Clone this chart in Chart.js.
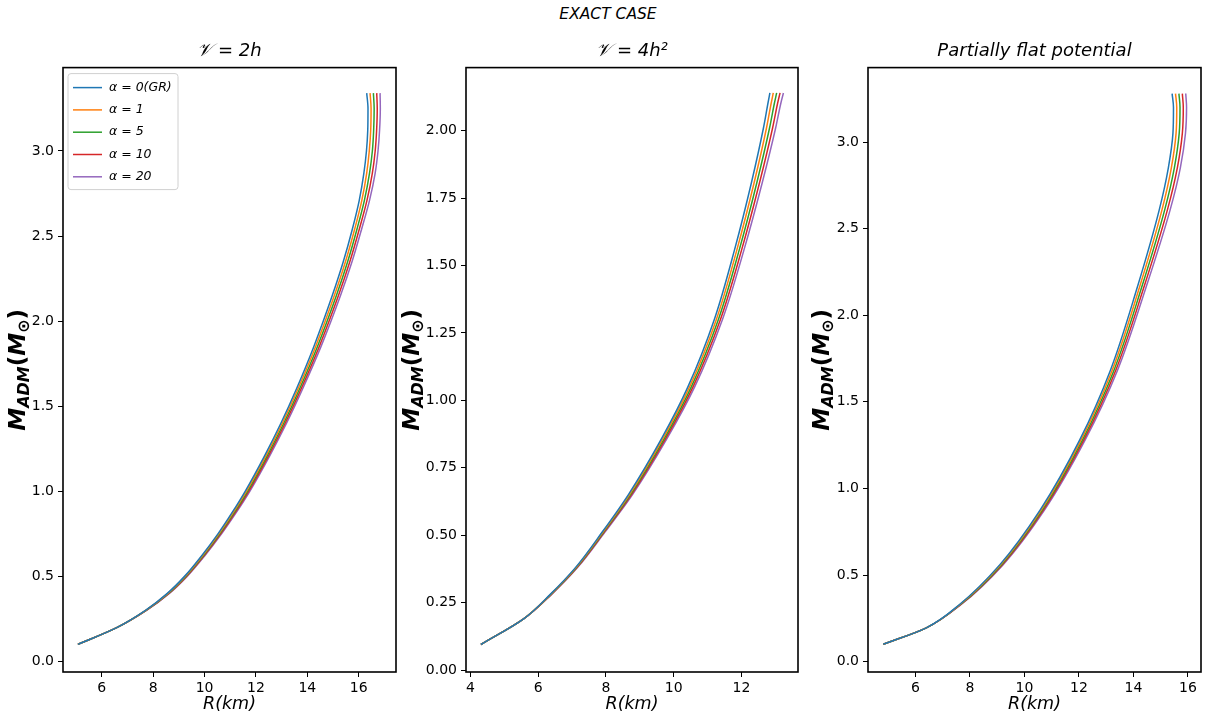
<!DOCTYPE html>
<html lang="en">
<head>
<meta charset="UTF-8">
<title>Mass-radius curves, exact case</title>
<script src="https://cdn.jsdelivr.net/npm/chart.js@4.4.1/dist/chart.umd.min.js"></script>
<style>
  body { margin: 0; background: #fff; width: 1216px; height: 728px; position: relative; overflow: hidden; }
  .panel { position: absolute; top: 0; height: 728px; }
  #suptitle { position: absolute; top: 5px; left: 0; width: 1216px; text-align: center;
              font: italic 15.5px "DejaVu Sans"; line-height: 18px; color: #000; }
</style>
</head>
<body>
<div id="suptitle">EXACT CASE</div>
<div class="panel" style="left:0;width:400px"><canvas id="c1"></canvas></div>
<div class="panel" style="left:400px;width:405px"><canvas id="c2"></canvas></div>
<div class="panel" style="left:805px;width:411px"><canvas id="c3"></canvas></div>
<script>
const alphaLabels = ['α = 0(GR)', 'α = 1', 'α = 5', 'α = 10', 'α = 20'];
const colors = ['#1f77b4', '#ff7f0e', '#2ca02c', '#d62728', '#9467bd'];

// panel 1: V = 2h   (M in solar masses, R in km)
const m1 = [0.10, 0.20, 0.30, 0.40, 0.50, 0.62, 0.75, 0.87, 1.00, 1.21, 1.40, 1.60, 1.85, 2.15, 2.35, 2.54, 2.71, 2.87, 3.00, 3.12, 3.25, 3.34];
const r1_a0 = [5.07, 6.60, 7.70, 8.55, 9.22, 9.88, 10.52, 11.05, 11.58, 12.34, 12.97, 13.57, 14.25, 14.97, 15.40, 15.75, 16.02, 16.20, 16.30, 16.35, 16.36, 16.31];
const r1_a1 = [5.07, 6.60, 7.71, 8.57, 9.245, 9.91, 10.555, 11.09, 11.625, 12.39, 13.025, 13.63, 14.32, 15.05, 15.485, 15.84, 16.12, 16.31, 16.41, 16.465, 16.48, 16.44];
const r1_a5 = [5.07, 6.60, 7.72, 8.59, 9.27, 9.94, 10.59, 11.13, 11.67, 12.44, 13.08, 13.69, 14.39, 15.13, 15.57, 15.93, 16.22, 16.42, 16.53, 16.58, 16.60, 16.57];
const r1_a10 = [5.07, 6.60, 7.73, 8.61, 9.295, 9.97, 10.625, 11.17, 11.715, 12.49, 13.135, 13.75, 14.46, 15.21, 15.655, 16.02, 16.32, 16.53, 16.64, 16.695, 16.72, 16.70];
const r1_a20 = [5.07, 6.60, 7.74, 8.63, 9.32, 10.00, 10.66, 11.21, 11.76, 12.54, 13.19, 13.81, 14.53, 15.29, 15.74, 16.11, 16.42, 16.64, 16.75, 16.81, 16.84, 16.83];
const xTicks1 = [6, 8, 10, 12, 14, 16];
const yTicks1 = [0, 0.5, 1.0, 1.5, 2.0, 2.5, 3.0];

// panel 2: V = 4h^2
const m2 = [0.095, 0.19, 0.28, 0.38, 0.51, 0.65, 0.86, 1.05, 1.30, 1.56, 1.81, 2.01, 2.10, 2.14];
const r2_a0 = [4.31, 5.57, 6.35, 7.10, 7.88, 8.66, 9.65, 10.42, 11.20, 11.80, 12.30, 12.65, 12.78, 12.84];
const r2_a1 = [4.31, 5.57, 6.36, 7.115, 7.90, 8.69, 9.69, 10.47, 11.26, 11.87, 12.38, 12.74, 12.875, 12.94];
const r2_a5 = [4.31, 5.57, 6.37, 7.13, 7.92, 8.72, 9.73, 10.52, 11.32, 11.94, 12.46, 12.83, 12.97, 13.04];
const r2_a10 = [4.31, 5.57, 6.38, 7.145, 7.94, 8.75, 9.77, 10.57, 11.38, 12.01, 12.54, 12.92, 13.065, 13.14];
const r2_a20 = [4.31, 5.57, 6.39, 7.16, 7.96, 8.78, 9.81, 10.62, 11.44, 12.08, 12.62, 13.01, 13.16, 13.24];
const xTicks2 = [4, 6, 8, 10, 12];
const yTicks2 = [0, 0.25, 0.5, 0.75, 1.0, 1.25, 1.5, 1.75, 2.0];

// panel 3: partially flat potential
const m3 = [0.10, 0.195, 0.33, 0.56, 0.876, 1.28, 1.68, 2.15, 2.61, 2.85, 3.05, 3.20, 3.28];
const r3_a0 = [4.82, 6.40, 7.62, 9.10, 10.58, 12.03, 13.15, 14.12, 14.95, 15.28, 15.45, 15.47, 15.42];
const r3_a1 = [4.82, 6.40, 7.635, 9.13, 10.62, 12.08, 13.215, 14.20, 15.05, 15.39, 15.565, 15.59, 15.545];
const r3_a5 = [4.82, 6.40, 7.65, 9.16, 10.66, 12.13, 13.28, 14.28, 15.15, 15.50, 15.68, 15.71, 15.67];
const r3_a10 = [4.82, 6.40, 7.665, 9.19, 10.70, 12.18, 13.345, 14.36, 15.25, 15.61, 15.795, 15.83, 15.795];
const r3_a20 = [4.82, 6.40, 7.68, 9.22, 10.74, 12.23, 13.41, 14.44, 15.35, 15.72, 15.91, 15.95, 15.92];
const xTicks3 = [6, 8, 10, 12, 14, 16];
const yTicks3 = [0, 0.5, 1.0, 1.5, 2.0, 2.5, 3.0];

const FONT = '"DejaVu Sans"';

// black box round the plot area, like matplotlib spines
const frame = {
  id: 'frame',
  afterDatasetsDraw(chart) {
    const a = chart.chartArea, ctx = chart.ctx;
    ctx.save();
    ctx.strokeStyle = '#000';
    ctx.lineWidth = 1.6;
    ctx.strokeRect(a.left, a.top, a.right - a.left, a.bottom - a.top);
    ctx.restore();
  }
};

// y axis title with subscripts: M_ADM(M_sun)
const yLabel = {
  id: 'yLabel',
  afterDraw(chart, args, opts) {
    const a = chart.chartArea, ctx = chart.ctx;
    const parts = [
      ['M', 'italic bold 23px ' + FONT, 0],
      ['ADM', 'italic bold 16px ' + FONT, 4],
      ['(', 'bold 23px ' + FONT, 0],
      ['M', 'italic bold 23px ' + FONT, 0],
      ['⊙', 'bold 16px ' + FONT, 4],
      [')', 'bold 23px ' + FONT, 0]
    ];
    ctx.save();
    let total = 0;
    parts.forEach(p => { ctx.font = p[1]; total += ctx.measureText(p[0]).width; });
    ctx.translate(opts.x, (a.top + a.bottom) / 2);
    ctx.rotate(-Math.PI / 2);
    ctx.fillStyle = '#000';
    ctx.textBaseline = 'alphabetic';
    let cx = -total / 2;
    parts.forEach(p => {
      ctx.font = p[1];
      ctx.fillText(p[0], cx, p[2]);
      cx += ctx.measureText(p[0]).width;
    });
    ctx.restore();
  }
};

// legend box in the top-left corner (first panel only)
const legendBox = {
  id: 'legendBox',
  afterDraw(chart, args, opts) {
    if (!opts.show) return;
    const a = chart.chartArea, ctx = chart.ctx;
    const x0 = a.left + 5, y0 = a.top + 6, w = 110, h = 116;
    ctx.save();
    ctx.beginPath();
    ctx.roundRect(x0, y0, w, h, 3);
    ctx.fillStyle = 'rgba(255,255,255,0.8)';
    ctx.fill();
    ctx.strokeStyle = '#d0d0d0';
    ctx.lineWidth = 1;
    ctx.stroke();
    ctx.font = 'italic 12.5px ' + FONT;
    ctx.textBaseline = 'middle';
    chart.data.datasets.forEach((ds, i) => {
      const y = y0 + 14 + i * 22.3;
      ctx.strokeStyle = ds.borderColor;
      ctx.lineWidth = 1.5;
      ctx.beginPath();
      ctx.moveTo(x0 + 5, y);
      ctx.lineTo(x0 + 34, y);
      ctx.stroke();
      ctx.fillStyle = '#000';
      ctx.fillText(ds.label, x0 + 41, y);
    });
    ctx.restore();
  }
};

function makePanel(id, title, m, series, xr, yr, xTicks, yTicks, digits, yAxisW, padRight, yLabelX, showLegend) {
  const datasets = series.map((r, i) => ({
    label: alphaLabels[i],
    data: m.map((v, j) => ({ x: r[j], y: v })),
    borderColor: colors[i],
    borderWidth: 1.5,
    pointRadius: 0,
    cubicInterpolationMode: 'monotone',
    fill: false
  }));
  return new Chart(document.getElementById(id), {
    type: 'line',
    data: { datasets },
    plugins: [frame, yLabel, legendBox],
    options: {
      indexAxis: 'y',
      responsive: true,
      maintainAspectRatio: false,
      animation: false,
      layout: { padding: { left: 0, right: padRight, top: 0, bottom: 0 } },
      plugins: {
        legend: { display: false },
        tooltip: { enabled: false },
        title: {
          display: true, text: title, color: '#000', fullSize: false,
          font: { family: FONT, size: 18, style: 'italic', weight: 'normal' },
          padding: { top: 41, bottom: 5 }
        },
        yLabel: { x: yLabelX },
        legendBox: { show: showLegend }
      },
      scales: {
        x: {
          type: 'linear', min: xr[0], max: xr[1],
          afterBuildTicks: ax => { ax.ticks = xTicks.map(v => ({ value: v })); },
          afterFit: ax => { ax.height = 56; },
          ticks: { color: '#000', font: { family: FONT, size: 14 }, padding: 3, autoSkip: false, maxRotation: 0 },
          grid: { drawOnChartArea: false, tickLength: 5, tickColor: '#000', color: '#000' },
          border: { display: false },
          title: {
            display: true, text: 'R(km)', color: '#000',
            font: { family: FONT, size: 17.5, style: 'italic' },
            padding: { top: 0, bottom: 13 }
          }
        },
        y: {
          type: 'linear', min: yr[0], max: yr[1],
          afterBuildTicks: ax => { ax.ticks = yTicks.map(v => ({ value: v })); },
          afterFit: ax => { ax.width = yAxisW; },
          ticks: {
            color: '#000', font: { family: FONT, size: 14 }, padding: 4, autoSkip: false,
            callback: v => v.toFixed(digits)
          },
          grid: { drawOnChartArea: false, tickLength: 5, tickColor: '#000', color: '#000' },
          border: { display: false }
        }
      }
    }
  });
}

makePanel('c1', '𝒱 = 2h', m1, [r1_a0, r1_a1, r1_a5, r1_a10, r1_a20],
  [4.49, 17.45], [-0.062, 3.49], xTicks1, yTicks1, 1, 63, 4, 25, true);
makePanel('c2', '𝒱 = 4h²', m2, [r2_a0, r2_a1, r2_a5, r2_a10, r2_a20],
  [3.87, 13.67], [-0.007, 2.234], xTicks2, yTicks2, 2, 66, 7, 19, false);
makePanel('c3', 'Partially flat potential', m3, [r3_a0, r3_a1, r3_a5, r3_a10, r3_a20],
  [4.26, 16.48], [-0.06, 3.43], xTicks3, yTicks3, 1, 63, 15, 24, false);
</script>
</body>
</html>
